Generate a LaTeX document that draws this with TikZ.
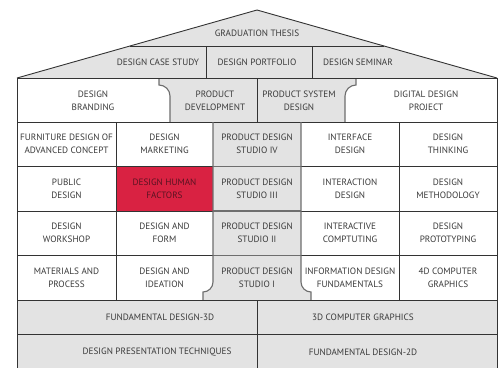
\documentclass[tikz,border=0pt]{standalone}
\usepackage{fontspec}
\setmainfont{PT Sans}
\begin{document}
\begin{tikzpicture}[x=1pt,y=-1pt,
  every node/.style={font=\fontsize{9.2}{13}\selectfont, text=txt, align=center, inner sep=0pt},
  grid/.style={draw=edge, line width=0.9pt},
  colline/.style={draw=coledge, line width=1.1pt}]
\definecolor{edge}{HTML}{333333}
\definecolor{coledge}{HTML}{6E6E6E}
\definecolor{stonegray}{HTML}{E3E3E3}
\definecolor{accent}{HTML}{D92242}
\definecolor{txt}{HTML}{3A3A3A}
\definecolor{txtdark}{HTML}{5A1322}
\useasboundingbox (0,0) rectangle (498,368);

% roof
\fill[stonegray] (17,78) -- (257,10) -- (497,78) -- cycle;
\draw[grid, line join=miter] (17,78) -- (257,10) -- (497,78);
\draw[grid] (130,46) -- (384,46);
\draw[grid] (206,46) -- (206,78);
\draw[grid] (312,46) -- (312,78);

% main body
\fill[white] (17,78) rectangle (497,300);
\fill[accent] (116,166.5) rectangle (213,211);

% capital of the central column
\fill[stonegray] (159,78) -- (159,85) .. controls (165.1,85) and (170,89.9) .. (170,96)
  -- (170,122) -- (345,122) -- (345,96) .. controls (345,89.9) and (349.9,85) .. (356,85)
  -- (356,78) -- cycle;
\draw[colline] (159,78) -- (159,85) .. controls (165.1,85) and (170,89.9) .. (170,96) -- (170,122);
\draw[colline] (345,122) -- (345,96) .. controls (345,89.9) and (349.9,85) .. (356,85) -- (356,78);
\draw[grid] (257,78) -- (257,122);

% shaft and base of the central column
\fill[stonegray] (213,122) -- (213,282) .. controls (213,287.5) and (208.5,292) .. (203,292)
  -- (203,300) -- (311,300) -- (311,292) .. controls (305.5,292) and (301,287.5) .. (301,282)
  -- (301,122) -- cycle;

% grid lines
\draw[grid] (17,122) -- (497,122);
\draw[grid] (17,166.5) -- (213,166.5) (301,166.5) -- (497,166.5);
\draw[grid] (17,211) -- (213,211) (301,211) -- (497,211);
\draw[grid] (17,255.5) -- (213,255.5) (301,255.5) -- (497,255.5);
\draw[colline] (213,166.5) -- (301,166.5) (213,211) -- (301,211) (213,255.5) -- (301,255.5);
\draw[grid] (116,122) -- (116,300);
\draw[grid] (399,122) -- (399,300);
\draw[colline] (213,122) -- (213,282) .. controls (213,287.5) and (208.5,292) .. (203,292) -- (203,300);
\draw[colline] (311,300) -- (311,292) .. controls (305.5,292) and (301,287.5) .. (301,282) -- (301,122);

% foundation
\fill[stonegray] (17,300) rectangle (497,368);
\draw[grid] (17,300) -- (497,300);
\draw[grid] (17,334) -- (497,334);
\draw[grid] (257,300) -- (257,368);

% outer walls
\draw[grid] (17,78) -- (497,78);
\draw[grid] (17,78) -- (17,368);
\draw[grid] (497,78) -- (497,368);

% labels
\node (thesis) at (257,33) {GRADUATION THESIS};
\node (casestudy) at (158,62) {DESIGN CASE STUDY};
\node (portfolio) at (257,62) {DESIGN PORTFOLIO};
\node (seminar) at (358,62) {DESIGN SEMINAR};

\node (branding) at (93,101) {DESIGN\\BRANDING};
\node (proddev) at (215,101) {PRODUCT\\DEVELOPMENT};
\node (prodsys) at (299,101) {PRODUCT SYSTEM\\DESIGN};
\node (digital) at (426,101) {DIGITAL DESIGN\\PROJECT};

\node (furniture) at (66.5,144) {FURNITURE DESIGN OF\\ADVANCED CONCEPT};
\node (marketing) at (164.5,144) {DESIGN\\MARKETING};
\node (studio4) at (257,144) {PRODUCT DESIGN\\STUDIO IV};
\node (interface) at (350,144) {INTERFACE\\DESIGN};
\node (thinking) at (448,144) {DESIGN\\THINKING};

\node (public) at (66.5,189) {PUBLIC\\DESIGN};
\node[text=txtdark] (humanfactors) at (164.5,189) {DESIGN HUMAN\\FACTORS};
\node (studio3) at (257,189) {PRODUCT DESIGN\\STUDIO III};
\node (interaction) at (350,189) {INTERACTION\\DESIGN};
\node (methodology) at (448,189) {DESIGN\\METHODOLOGY};

\node (workshop) at (66.5,233) {DESIGN\\WORKSHOP};
\node (form) at (164.5,233) {DESIGN AND\\FORM};
\node (studio2) at (257,233) {PRODUCT DESIGN\\STUDIO II};
\node (computing) at (350,233) {INTERACTIVE\\COMPTUTING};
\node (prototyping) at (448,233) {DESIGN\\PROTOTYPING};

\node (materials) at (66.5,278) {MATERIALS AND\\PROCESS};
\node (ideation) at (164.5,278) {DESIGN AND\\IDEATION};
\node (studio1) at (257,278) {PRODUCT DESIGN\\STUDIO I};
\node (infofund) at (350,278) {INFORMATION DESIGN\\FUNDAMENTALS};
\node (comp4d) at (448,278) {4D COMPUTER\\GRAPHICS};

\node (fund3d) at (160,317) {FUNDAMENTAL DESIGN-3D};
\node (cg3d) at (363,317) {3D COMPUTER GRAPHICS};
\node (presentation) at (157,352) {DESIGN PRESENTATION TECHNIQUES};
\node (fund2d) at (363,352) {FUNDAMENTAL DESIGN-2D};
\end{tikzpicture}
\end{document}
